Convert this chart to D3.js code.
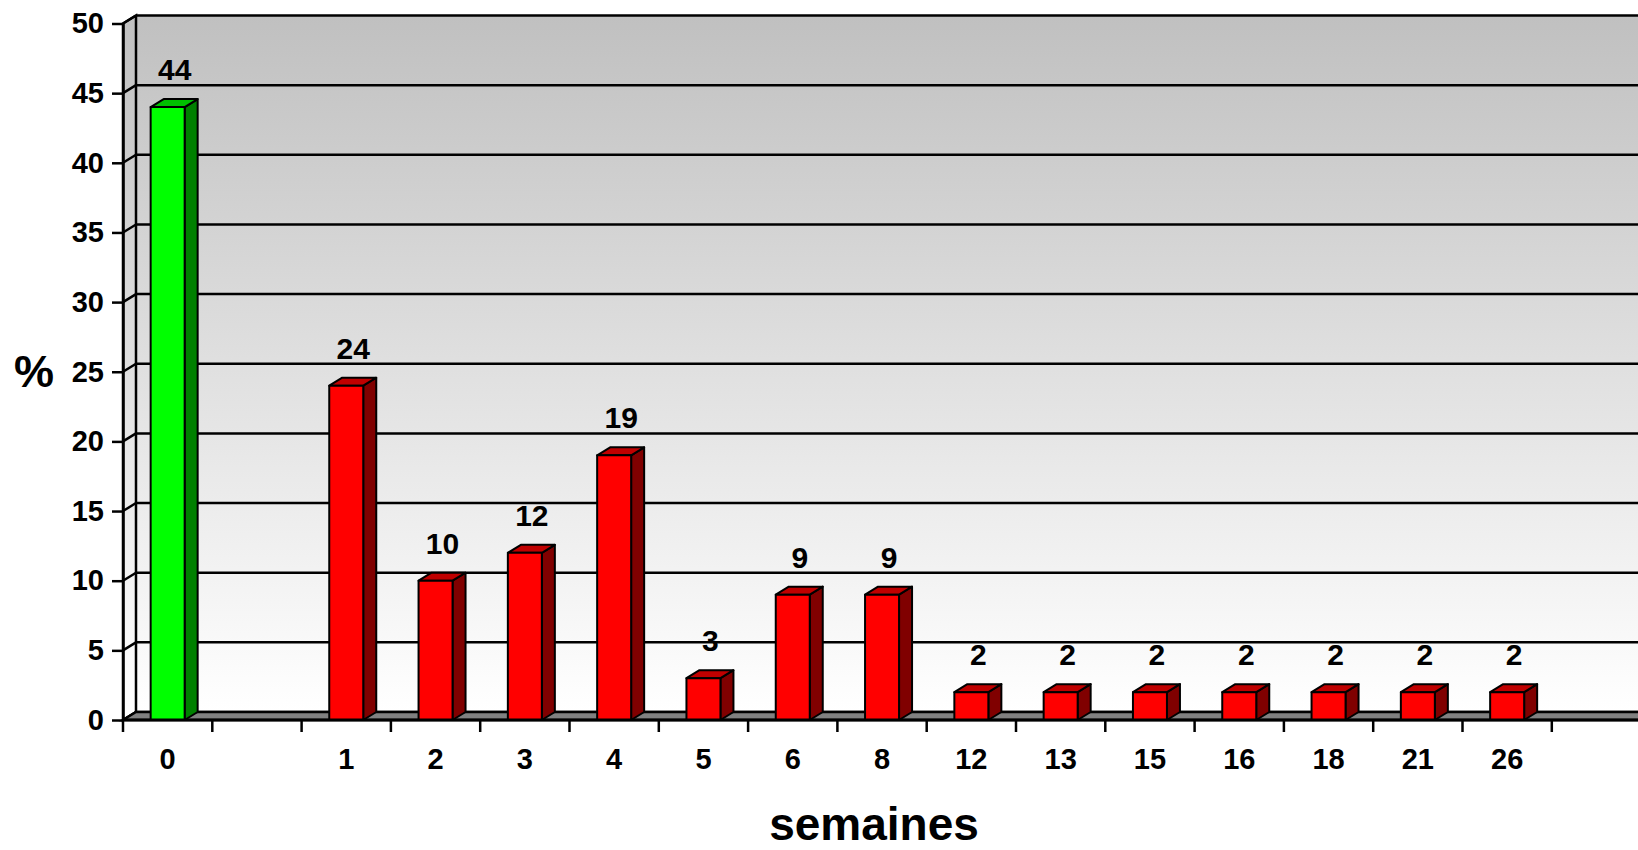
<!DOCTYPE html>
<html><head><meta charset="utf-8">
<script src="https://cdn.jsdelivr.net/npm/d3@7"></script>
<style>
body{margin:0;background:#fff}
svg{display:block}
text{font-family:"Liberation Sans",Arial,sans-serif;font-weight:bold;fill:#000}
</style>
</head><body>
<svg id="c" width="1638" height="850"></svg>
<script>
// ---- data ----
const categories = ["0", "", "1", "2", "3", "4", "5", "6", "8", "12", "13", "15", "16", "18", "21", "26", ""];
const values     = [44, null, 24, 10, 12, 19, 3, 9, 9, 2, 2, 2, 2, 2, 2, 2, null];
const barGroup   = ["green", null, "red", "red", "red", "red", "red", "red", "red", "red", "red", "red", "red", "red", "red", "red", null];
const yTicks = [0, 5, 10, 15, 20, 25, 30, 35, 40, 45, 50];
const yTitle = "%";
const xTitle = "semaines";

const palette = {
  green: {front: "#00ff00", top: "#00c000", side: "#008000"},
  red:   {front: "#ff0000", top: "#c00000", side: "#800000"}
};

// ---- layout ----
const svg = d3.select("#c");
const X0 = 123, SLOT = 89.3;
const n = categories.length;
const x = d3.scaleBand().domain(d3.range(n)).range([X0, X0 + SLOT * n]).padding(0);
const y = d3.scaleLinear().domain([0, 50]).range([720, 23.5]);
const DX = 13, DY = 8;
const BW = 34;
const xEnd = X0 + SLOT * n;
const yTop = y(50), yBase = y(0);

// gradient
const defs = svg.append("defs");
const grad = defs.append("linearGradient").attr("id", "wall")
  .attr("gradientUnits", "userSpaceOnUse")
  .attr("x1", 0).attr("x2", 0).attr("y1", yTop - DY).attr("y2", yBase - DY);
grad.append("stop").attr("offset", "0%").attr("stop-color", "#c0c0c0");
grad.append("stop").attr("offset", "100%").attr("stop-color", "#ffffff");

// back wall
svg.append("rect").attr("x", X0 + DX).attr("y", yTop - DY)
  .attr("width", xEnd - X0).attr("height", yBase - yTop)
  .attr("fill", "url(#wall)");
// left wall
svg.append("polygon")
  .attr("points", [[X0, yTop], [X0 + DX, yTop - DY], [X0 + DX, yBase - DY], [X0, yBase]].join(" "))
  .attr("fill", "url(#wall)").attr("stroke", "#000").attr("stroke-width", 2.5);

// gridlines
const grid = svg.append("g").attr("stroke", "#000").attr("stroke-width", 2.5).attr("fill", "none");
yTicks.forEach(v => {
  const yy = y(v);
  grid.append("line").attr("x1", X0).attr("y1", yy).attr("x2", X0 + DX).attr("y2", yy - DY);
  grid.append("line").attr("x1", X0 + DX).attr("y1", yy - DY).attr("x2", xEnd + DX).attr("y2", yy - DY);
});

// floor
svg.append("polygon")
  .attr("points", [[X0, yBase], [X0 + DX, yBase - DY], [xEnd + DX, yBase - DY], [xEnd, yBase]].join(" "))
  .attr("fill", "#808080").attr("stroke", "#000").attr("stroke-width", 2.5);

// bars
const bars = svg.append("g").attr("stroke", "#000").attr("stroke-width", 2).attr("stroke-linejoin", "round");
values.forEach((v, i) => {
  if (v == null) return;
  const c = palette[barGroup[i]];
  const xl = x(i) + (x.bandwidth() - BW) / 2, xr = xl + BW;
  const yt = y(v), y0 = y(0);
  bars.append("polygon").attr("fill", c.side)
    .attr("points", [[xr, yt], [xr + DX, yt - DY], [xr + DX, y0 - DY], [xr, y0]].join(" "));
  bars.append("polygon").attr("fill", c.top)
    .attr("points", [[xl, yt], [xl + DX, yt - DY], [xr + DX, yt - DY], [xr, yt]].join(" "));
  bars.append("rect").attr("fill", c.front)
    .attr("x", xl).attr("y", yt).attr("width", BW).attr("height", y0 - yt);
});

// value labels
svg.append("g").selectAll("text").data(values.map((v, i) => ({v, i})).filter(d => d.v != null))
  .join("text")
  .attr("x", d => x(d.i) + x.bandwidth() / 2 + 7)
  .attr("y", d => y(d.v) - 27)
  .attr("text-anchor", "middle")
  .attr("font-size", 30)
  .text(d => d.v);

// y axis
const yAxis = svg.append("g").attr("transform", `translate(${X0},0)`)
  .call(d3.axisLeft(y).tickValues(yTicks).tickSize(11).tickSizeOuter(0).tickPadding(8));
yAxis.selectAll("path,line").attr("stroke", "#000").attr("stroke-width", 2.5);
yAxis.selectAll("text").attr("font-size", 29).attr("font-family", null);

// x axis line + boundary ticks
svg.append("line").attr("x1", X0).attr("x2", xEnd).attr("y1", yBase).attr("y2", yBase)
  .attr("stroke", "#000").attr("stroke-width", 3);
svg.append("g").selectAll("line").data(d3.range(n + 1)).join("line")
  .attr("x1", i => X0 + i * x.step()).attr("x2", i => X0 + i * x.step())
  .attr("y1", yBase).attr("y2", yBase + 12)
  .attr("stroke", "#000").attr("stroke-width", 2.5);

// x labels
const xAxis = svg.append("g").attr("transform", `translate(0,${yBase})`)
  .call(d3.axisBottom(x).tickFormat(i => categories[i]).tickSize(0).tickPadding(28));
xAxis.select(".domain").remove();
xAxis.selectAll("text").attr("font-size", 29).attr("font-family", null);

// titles
svg.append("text").attr("x", 34).attr("y", 387).attr("text-anchor", "middle")
  .attr("font-size", 45).text(yTitle);
svg.append("text").attr("x", 874).attr("y", 840).attr("text-anchor", "middle")
  .attr("font-size", 46).text(xTitle);
</script>
</body></html>
